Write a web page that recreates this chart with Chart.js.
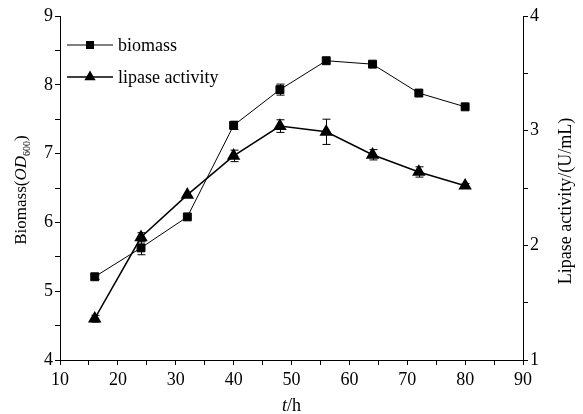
<!DOCTYPE html>
<html lang="en">
<head>
  <meta charset="UTF-8">
  <title>Biomass and lipase activity</title>
  <script src="https://cdn.jsdelivr.net/npm/chart.js"></script>
  <style>
    html, body { margin: 0; padding: 0; background: #fff; }
    #wrap { width: 583px; height: 414px; }
  </style>
</head>
<body>
<div id="wrap"><canvas id="chart" width="583" height="414"></canvas></div>
<script>
// values
const hours = [16, 24, 32, 40, 48, 56, 64, 72, 80];
const biomass = [5.21, 5.63, 6.08, 7.41, 7.93, 8.35, 8.30, 7.88, 7.68];
const biomassErr = [0.04, 0.10, 0, 0.06, 0.08, 0, 0, 0, 0];
const lipase = [1.36, 2.07, 2.44, 2.78, 3.04, 2.99, 2.79, 2.64, 2.52];
const lipaseErr = [0.03, 0.04, 0, 0.05, 0.055, 0.11, 0.045, 0.045, 0.02];
const legendLabels = ['biomass', 'lipase activity'];

const FONT = '"Liberation Serif", "Times New Roman", serif';

function pairs(ys) {
  return hours.map((h, i) => ({ x: h, y: ys[i] }));
}

// vertical error bars, positioned through the chart's own scales
const errorBars = {
  id: 'errorBars',
  beforeDatasetsDraw(chart) {
    const ctx = chart.ctx;
    ctx.save();
    ctx.strokeStyle = '#000';
    ctx.lineWidth = 1;
    chart.data.datasets.forEach(ds => {
      const ys = chart.scales[ds.yAxisID];
      ds.data.forEach((p, i) => {
        const e = ds.errors[i];
        if (!e) return;
        const x = Math.round(chart.scales.x.getPixelForValue(p.x)) + 0.5;
        const top = ys.getPixelForValue(p.y + e);
        const bot = ys.getPixelForValue(p.y - e);
        ctx.beginPath();
        ctx.moveTo(x, top); ctx.lineTo(x, bot);
        ctx.moveTo(x - 4, top); ctx.lineTo(x + 4, top);
        ctx.moveTo(x - 4, bot); ctx.lineTo(x + 4, bot);
        ctx.stroke();
      });
    });
    ctx.restore();
  }
};

function drawSquare(ctx, x, y, s) {
  ctx.fillRect(x - s / 2, y - s / 2, s, s);
}
function drawTriangle(ctx, x, y, r) {
  ctx.beginPath();
  ctx.moveTo(x, y - r);
  ctx.lineTo(x + r * 0.866, y + r / 2);
  ctx.lineTo(x - r * 0.866, y + r / 2);
  ctx.closePath();
  ctx.fill();
}

// axis titles (mixed italic / subscript) and the legend
const decorations = {
  id: 'decorations',
  afterDraw(chart) {
    const ctx = chart.ctx;
    const area = chart.chartArea;
    ctx.save();
    ctx.fillStyle = '#000';
    ctx.strokeStyle = '#000';
    ctx.textBaseline = 'alphabetic';

    // left title: Biomass(OD600)
    const parts = [
      { t: 'Biomass(', f: '17px ' + FONT, dy: 0 },
      { t: 'OD', f: 'italic 17px ' + FONT, dy: 0 },
      { t: '600', f: '10px ' + FONT, dy: 4 },
      { t: ')', f: '17px ' + FONT, dy: 0 }
    ];
    let total = 0;
    parts.forEach(p => { ctx.font = p.f; p.w = ctx.measureText(p.t).width; total += p.w; });
    ctx.save();
    ctx.translate(26, 190);
    ctx.rotate(-Math.PI / 2);
    let cx = -total / 2;
    parts.forEach(p => { ctx.font = p.f; ctx.fillText(p.t, cx, p.dy); cx += p.w; });
    ctx.restore();

    // right title
    ctx.save();
    ctx.font = '18px ' + FONT;
    ctx.translate(571, 201);
    ctx.rotate(-Math.PI / 2);
    ctx.textAlign = 'center';
    ctx.fillText('Lipase activity/(U/mL)', 0, 0);
    ctx.restore();

    // x title: t/h
    ctx.font = 'italic 18px ' + FONT;
    const tw = ctx.measureText('t').width;
    ctx.font = '18px ' + FONT;
    const hw = ctx.measureText('/h').width;
    const xs = (area.left + area.right) / 2 - (tw + hw) / 2;
    ctx.font = 'italic 18px ' + FONT;
    ctx.fillText('t', xs, 411);
    ctx.font = '18px ' + FONT;
    ctx.fillText('/h', xs + tw, 411);

    // legend
    const rows = [45, 77];
    rows.forEach((y, i) => {
      ctx.lineWidth = i === 0 ? 1 : 1.5;
      ctx.beginPath();
      ctx.moveTo(67, y); ctx.lineTo(113, y);
      ctx.stroke();
      if (i === 0) drawSquare(ctx, 90, y, 8);
      else drawTriangle(ctx, 90, y, 6.5);
      ctx.font = '18px ' + FONT;
      ctx.textBaseline = 'middle';
      ctx.fillText(legendLabels[i], 118, y + 1);
      ctx.textBaseline = 'alphabetic';
    });
    ctx.restore();
  }
};

const axisCommon = {
  border: { display: true, color: '#000', width: 1 },
  grid: { drawOnChartArea: false, drawTicks: true, tickLength: 5, color: '#000', tickColor: '#000' },
  ticks: { color: '#000', font: { family: FONT, size: 18 }, padding: 2, autoSkip: false, maxRotation: 0 }
};

new Chart(document.getElementById('chart'), {
  type: 'line',
  data: {
    datasets: [
      {
        label: legendLabels[0],
        data: pairs(biomass),
        errors: biomassErr,
        yAxisID: 'y',
        borderColor: '#000',
        backgroundColor: '#000',
        borderWidth: 1,
        pointStyle: 'rect',
        pointRadius: 5.6,
        pointHoverRadius: 5.6,
        tension: 0
      },
      {
        label: legendLabels[1],
        data: pairs(lipase),
        errors: lipaseErr,
        yAxisID: 'y1',
        borderColor: '#000',
        backgroundColor: '#000',
        borderWidth: 1.5,
        pointStyle: 'triangle',
        pointRadius: 6.3,
        pointHoverRadius: 6.3,
        tension: 0
      }
    ]
  },
  options: {
    responsive: false,
    animation: false,
    layout: { padding: { top: 16, left: 0, right: 0, bottom: 0 } },
    plugins: { legend: { display: false }, tooltip: { enabled: false } },
    scales: {
      x: {
        type: 'linear', min: 10, max: 90,
        border: axisCommon.border,
        grid: axisCommon.grid,
        ticks: Object.assign({}, axisCommon.ticks, {
          stepSize: 5, padding: 4,
          callback: v => (v % 10 === 0 ? v : '')
        }),
        afterFit: s => { s.height = 54; }
      },
      y: {
        position: 'left', min: 4, max: 9,
        border: axisCommon.border,
        grid: axisCommon.grid,
        ticks: Object.assign({}, axisCommon.ticks, {
          stepSize: 0.5,
          callback: v => (Number.isInteger(v) ? v : '')
        }),
        afterFit: s => { s.width = 60; }
      },
      y1: {
        position: 'right', min: 1, max: 4,
        border: axisCommon.border,
        grid: axisCommon.grid,
        ticks: Object.assign({}, axisCommon.ticks, {
          stepSize: 0.5,
          callback: v => (Number.isInteger(v) ? v : '')
        }),
        afterFit: s => { s.width = 60; }
      }
    }
  },
  plugins: [errorBars, decorations]
});
</script>
</body>
</html>
